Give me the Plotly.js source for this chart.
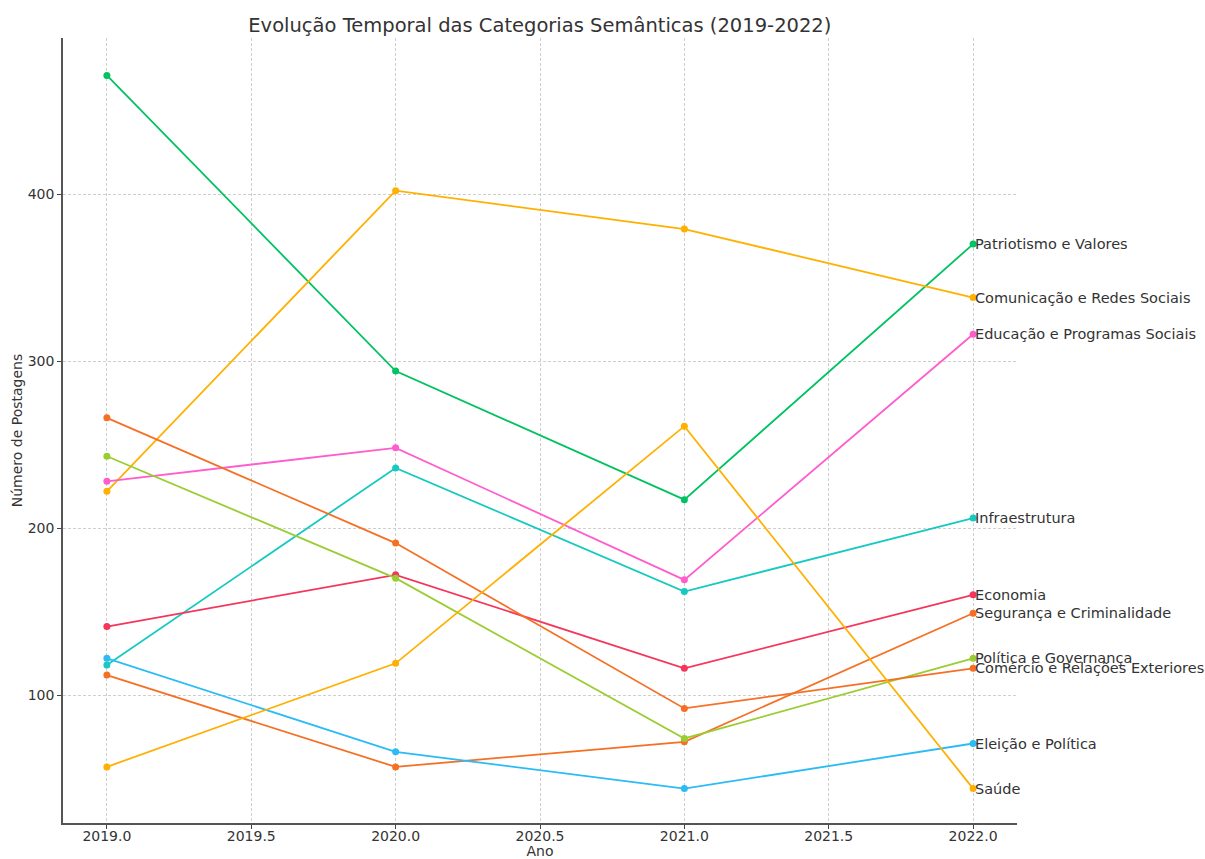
<!DOCTYPE html>
<html>
<head>
<meta charset="utf-8">
<script src="https://cdn.plot.ly/plotly-3.0.1.min.js"></script>
<style>body{margin:0;background:#fff}#chart{width:1205px;height:859px}</style>
</head>
<body>
<div id="chart"></div>
<script>
const years = [2019, 2020, 2021, 2022];
const categories = [
  "Patriotismo e Valores",
  "Comunicação e Redes Sociais",
  "Educação e Programas Sociais",
  "Infraestrutura",
  "Economia",
  "Segurança e Criminalidade",
  "Política e Governança",
  "Comércio e Relações Exteriores",
  "Eleição e Política",
  "Saúde"
];
const patriotismo = [471, 294, 217, 370];
const comunicacao = [222, 402, 379, 338];
const educacao = [228, 248, 169, 316];
const infraestrutura = [118, 236, 162, 206];
const economia = [141, 172, 116, 160];
const seguranca = [112, 57, 72, 149];
const politica = [243, 170, 74, 122];
const comercio = [266, 191, 92, 116];
const eleicao = [122, 66, 44, 71];
const saude = [57, 119, 261, 44];
const seriesValues = [patriotismo, comunicacao, educacao, infraestrutura, economia, seguranca, politica, comercio, eleicao, saude];
const colors = ["#00c261", "#ffb000", "#ff5ccd", "#17c9c0", "#f5365c", "#f57025", "#9acd32", "#f57025", "#2bbcf5", "#ffb000"];

const traces = categories.map((c, i) => ({
  x: years, y: seriesValues[i], name: c, type: "scatter", mode: "lines+markers",
  line: {color: colors[i], width: 1.8},
  marker: {color: colors[i], size: 7},
  cliponaxis: false
}));

const annotations = categories.map((c, i) => ({
  x: years[years.length - 1], y: seriesValues[i][seriesValues[i].length - 1],
  xref: "x", yref: "y", text: c, showarrow: false, xanchor: "left", yanchor: "middle",
  xshift: 0,
  font: {family: "DejaVu Sans", size: 14.5, color: "#333"}
}));

const layout = {
  width: 1205, height: 859,
  paper_bgcolor: "#fff", plot_bgcolor: "#fff",
  margin: {l: 63, r: 188, t: 38, b: 36},
  showlegend: false,
  font: {family: "DejaVu Sans", color: "#333"},
  title: {text: "Evolução Temporal das Categorias Semânticas (2019-2022)", x: 0.448, xanchor: "center", y: 0.979, yanchor: "top",
    font: {family: "DejaVu Sans", size: 19.5, color: "#333"}},
  xaxis: {
    range: [2018.848, 2022.152], dtick: 0.5, tick0: 2019, tickformat: ".1f",
    showgrid: true, gridcolor: "#cfcfcf", griddash: "3px,2px", gridwidth: 0.8,
    zeroline: false, showline: true, linecolor: "#555", linewidth: 1.5,
    ticks: "outside", ticklen: 4, tickcolor: "#444", ticklabelstandoff: -5,
    tickfont: {size: 14, color: "#333"},
    automargin: false,
    title: {text: "Ano", font: {size: 14, color: "#333"}, standoff: 12}
  },
  yaxis: {
    range: [23.4, 493.4], tickvals: [100, 200, 300, 400],
    showgrid: true, gridcolor: "#cfcfcf", griddash: "3px,2px", gridwidth: 0.8,
    zeroline: false, showline: true, linecolor: "#555", linewidth: 1.5,
    ticks: "outside", ticklen: 4, tickcolor: "#444",
    tickfont: {size: 14, color: "#333"},
    automargin: false,
    title: {text: "Número de Postagens", font: {size: 14, color: "#333"}, standoff: 2}
  },
  annotations: annotations
};

Plotly.newPlot("chart", traces, layout, {displayModeBar: false});
</script>
</body>
</html>
